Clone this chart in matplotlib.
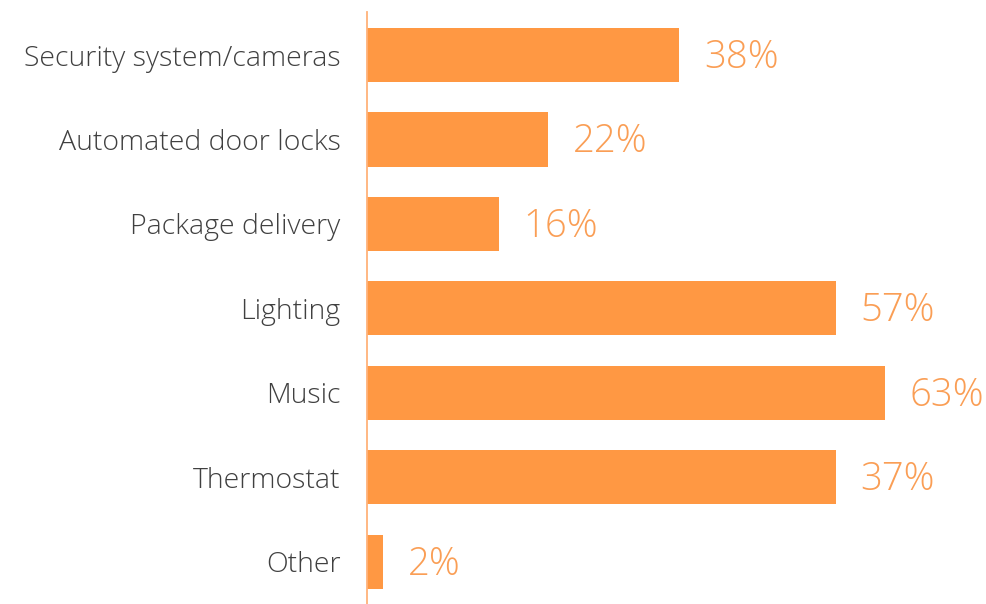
import matplotlib
matplotlib.use("Agg")
import matplotlib.pyplot as plt

categories = ["Security system/cameras", "Automated door locks", "Package delivery",
              "Lighting", "Music", "Thermostat", "Other"]
values = [38, 22, 16, 57, 63, 57, 2]
value_labels = ["38%", "22%", "16%", "57%", "63%", "37%", "2%"]

bar_color = "#FF9843"
label_color = "#FA9E55"
text_color = "#404040"

plt.rcParams['font.family'] = ['Open Sans', 'DejaVu Sans']

fig = plt.figure(figsize=(9.87, 6.04), dpi=100)
ax = fig.add_axes([367/987, 0.0, 1 - 367/987, 1 - 12/604])

pos = list(range(len(categories)))
ax.barh(pos, values, height=0.64, color=bar_color)
for p, v, lab in zip(pos, values, value_labels):
    ax.text(v + 3.0, p + 0.03, lab, va="center", ha="left", fontsize=27.5,
            color=label_color, fontweight="light")

ax.set_xlim(0, 620/8.22)
ax.set_ylim(6.5, -0.51)
ax.set_yticks(pos)
ax.set_yticklabels(categories, fontsize=20.5, color=text_color, fontweight="light")
ax.tick_params(axis="y", length=0, pad=19)
ax.set_xticks([])
for s in ["top", "right", "bottom"]:
    ax.spines[s].set_visible(False)
ax.spines["left"].set_color("#FFB27A")
ax.spines["left"].set_linewidth(1.3)

fig.savefig("out.png", dpi=100)
